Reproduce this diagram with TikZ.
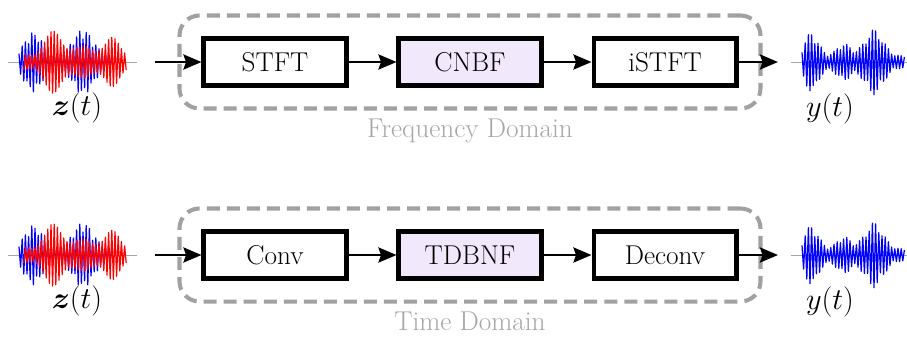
\documentclass[tikz,border=0pt]{standalone}
\usepackage{amsmath}
\usepackage{tikz}
\usetikzlibrary{arrows.meta, positioning, fit}
\definecolor{lavender}{RGB}{241,232,252}

\begin{document}
\begin{tikzpicture}[x=0.02cm, y=-0.02cm,
                    node distance=0.96cm,
                    font=\fontsize{15.5}{18}\selectfont,
                    block/.style={rectangle, draw, line width=2.3pt, minimum width=2.86cm, minimum height=0.94cm},
                    arrow/.style={-{Stealth[length=0.36cm, width=0.3cm, inset=0.05cm]}, line width=1.5pt},
                    frame/.style={draw=black!37, dash pattern=on 7.4pt off 4pt, line width=2.3pt, rounded corners=0.4cm, inner xsep=0.44cm, inner ysep=0.42cm},
                    domlabel/.style={text=black!35},
                    sig/.style={font=\fontsize{18}{21}\selectfont},
                    base/.style={black!35, line width=0.4pt},
                    wave/.style={line width=0.7pt, line join=round}
                ]
                \useasboundingbox (0,0) rectangle (907,336);

                % signals on both rows, bursts shaped with gaussians
                \foreach \yc in {62,255} {
                    \draw[base] (8,\yc) -- (137,\yc);
                    \draw[wave, blue] plot[domain=0:58, samples=59] ({19+1.6*\x}, {\yc - 30*cos(180*\x)*(0.3+0.7*exp(-((\x-9)/7)^2)+0.8*exp(-((\x-40)/8)^2))*(0.65+0.35*abs(sin(211.3*\x)))});
                    \draw[wave, red] plot[domain=0:64, samples=65] ({23.8+1.6*\x}, {\yc + 30*cos(180*\x)*(0.3+0.75*exp(-((\x-18)/7)^2)+0.45*exp(-((\x-36)/6)^2)+0.6*exp(-((\x-56)/6)^2))*(0.65+0.35*abs(sin(173.7*\x+40)))});
                    \draw[base] (791,\yc) -- (907,\yc);
                    \draw[wave, blue] plot[domain=0:64, samples=65] ({802+1.6*\x}, {\yc - 28*cos(180*\x)*(0.22+0.85*exp(-((\x-6)/6)^2)+0.45*exp(-((\x-26)/6)^2)+0.95*exp(-((\x-45)/8)^2))*(0.65+0.35*abs(sin(157.9*\x)))});
                }

                % frequency domain branch
                \node[block] (stft) at (275,62) {STFT};
                \node[block, fill=lavender, right=of stft] (cnbf) {CNBF};
                \node[block, right=of cnbf] (istft) {iSTFT};
                \node[frame, fit=(stft)(istft)] (freq) {};
                \node[domlabel, below=1pt of freq] (freqlbl) {Frequency Domain};
                \coordinate (zin1) at (155,62);
                \coordinate (yout1) at (778,62);
                \draw[arrow] (zin1) -- (stft);
                \draw[arrow] (stft) -- (cnbf);
                \draw[arrow] (cnbf) -- (istft);
                \draw[arrow] (istft) -- (yout1);
                \node[sig] (zlbl1) at (77,108) {$\boldsymbol{z}(t)$};
                \node[sig] (ylbl1) at (830,109) {$y(t)$};

                % time domain branch
                \node[block] (conv) at (275,255) {Conv};
                \node[block, fill=lavender, right=of conv] (tdbnf) {TDBNF};
                \node[block, right=of tdbnf] (deconv) {Deconv};
                \node[frame, fit=(conv)(deconv)] (time) {};
                \node[domlabel, below=1pt of time] (timelbl) {Time Domain};
                \coordinate (zin2) at (155,255);
                \coordinate (yout2) at (778,255);
                \draw[arrow] (zin2) -- (conv);
                \draw[arrow] (conv) -- (tdbnf);
                \draw[arrow] (tdbnf) -- (deconv);
                \draw[arrow] (deconv) -- (yout2);
                \node[sig] (zlbl2) at (77,301) {$\boldsymbol{z}(t)$};
                \node[sig] (ylbl2) at (830,302) {$y(t)$};
\end{tikzpicture}
\end{document}
